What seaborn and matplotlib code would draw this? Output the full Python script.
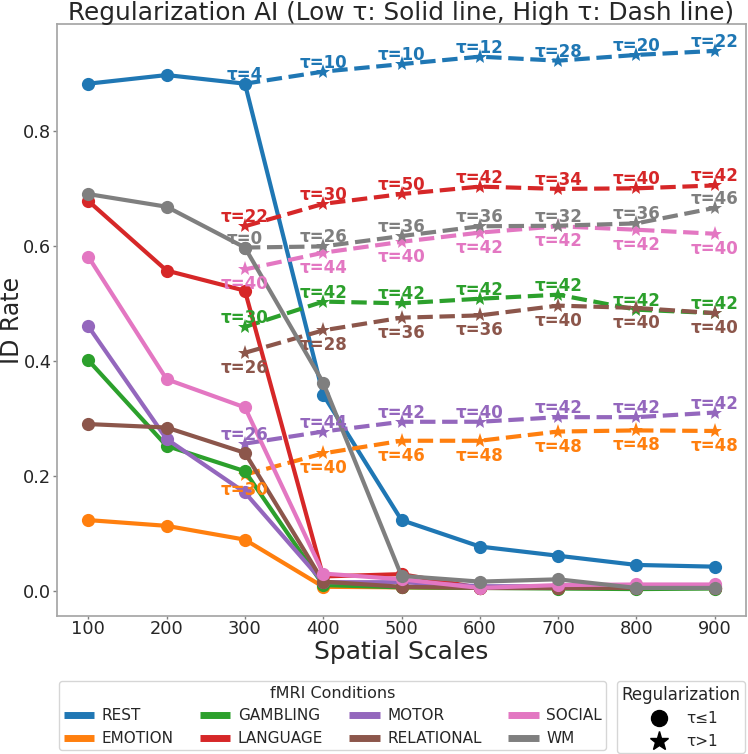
import matplotlib
matplotlib.use("Agg")
import matplotlib.pyplot as plt
from matplotlib.lines import Line2D
import seaborn as sns
import pandas as pd

# ---------------- data ----------------
scales = [100, 200, 300, 400, 500, 600, 700, 800, 900]
high_scales = [300, 400, 500, 600, 700, 800, 900]
conditions = ["REST", "EMOTION", "GAMBLING", "LANGUAGE", "MOTOR", "RELATIONAL", "SOCIAL", "WM"]

low_rest = [0.882, 0.897, 0.882, 0.341, 0.123, 0.077, 0.061, 0.045, 0.042]
low_emotion = [0.123, 0.113, 0.089, 0.007, 0.006, 0.005, 0.005, 0.005, 0.005]
low_gambling = [0.401, 0.252, 0.208, 0.010, 0.006, 0.005, 0.004, 0.003, 0.004]
low_language = [0.678, 0.557, 0.522, 0.025, 0.029, 0.005, 0.005, 0.005, 0.005]
low_motor = [0.460, 0.264, 0.171, 0.015, 0.015, 0.008, 0.008, 0.008, 0.008]
low_relational = [0.290, 0.284, 0.240, 0.016, 0.007, 0.005, 0.005, 0.005, 0.005]
low_social = [0.581, 0.368, 0.319, 0.030, 0.020, 0.005, 0.010, 0.011, 0.011]
low_wm = [0.690, 0.668, 0.597, 0.362, 0.026, 0.016, 0.020, 0.005, 0.005]

high_rest = [0.882, 0.903, 0.916, 0.929, 0.922, 0.932, 0.939]
high_emotion = [0.202, 0.239, 0.261, 0.261, 0.277, 0.279, 0.278]
high_gambling = [0.459, 0.503, 0.500, 0.508, 0.515, 0.489, 0.483]
high_language = [0.634, 0.673, 0.690, 0.703, 0.699, 0.700, 0.705]
high_motor = [0.256, 0.277, 0.294, 0.294, 0.302, 0.302, 0.310]
high_relational = [0.414, 0.453, 0.475, 0.479, 0.496, 0.492, 0.483]
high_social = [0.559, 0.588, 0.607, 0.623, 0.634, 0.628, 0.621]
high_wm = [0.597, 0.599, 0.617, 0.634, 0.635, 0.639, 0.666]

tau_rest = [4, 10, 10, 12, 28, 20, 22]
tau_emotion = [30, 40, 46, 48, 48, 48, 48]
tau_gambling = [30, 42, 42, 42, 42, 42, 42]
tau_language = [22, 30, 50, 42, 34, 40, 42]
tau_motor = [26, 44, 42, 40, 42, 42, 42]
tau_relational = [26, 28, 36, 36, 40, 40, 40]
tau_social = [40, 44, 40, 42, 42, 42, 40]
tau_wm = [0, 26, 36, 36, 32, 36, 46]

low_vals = [low_rest, low_emotion, low_gambling, low_language, low_motor,
            low_relational, low_social, low_wm]
high_vals = [high_rest, high_emotion, high_gambling, high_language, high_motor,
             high_relational, high_social, high_wm]
tau_vals = [tau_rest, tau_emotion, tau_gambling, tau_language, tau_motor,
            tau_relational, tau_social, tau_wm]

# ---------------- style ----------------
sns.set_style("white")
plt.rcParams["font.family"] = ["DejaVu Sans"]
palette = sns.color_palette("tab10", 8)
label_below = {"EMOTION", "RELATIONAL", "SOCIAL"}

fig = plt.figure(figsize=(7.48, 7.54), dpi=100)
ax = fig.add_axes([57 / 748, 1 - 616 / 754, (746 - 57) / 748, (616 - 24) / 754])

annotations = []
for i, cond in enumerate(conditions):
    col = palette[i]
    dlow = pd.DataFrame({"scale": scales, "rate": low_vals[i]})
    dhigh = pd.DataFrame({"scale": high_scales, "rate": high_vals[i], "tau": tau_vals[i]})
    sns.lineplot(data=dlow, x="scale", y="rate", color=col, lw=3, marker="o",
                 markersize=9.5, markeredgewidth=0, ax=ax, legend=False, sort=False)
    star_mask = [t > 1 for t in tau_vals[i]]
    sns.lineplot(data=dhigh, x="scale", y="rate", color=col, lw=3, linestyle="--",
                 marker="*", markersize=11, markeredgewidth=0, markevery=star_mask,
                 ax=ax, legend=False, sort=False)
    small = dhigh[dhigh["tau"] <= 1]
    if len(small):
        ax.plot(small["scale"], small["rate"], "o", color=col, ms=9.5, mew=0)
    for _, r in dhigh.iterrows():
        off = -15 if cond in label_below else 9
        annotations.append((r["scale"], r["rate"], f"τ={int(r['tau'])}", col, off))

for x, y, txt, col, off in annotations:
    ax.annotate(txt, (x, y), xytext=(0, off), textcoords="offset pixels",
                ha="center", va="center", color=col, fontsize=12,
                fontweight="bold", zorder=10)

ax.set_xticks(scales)
ax.set_xticklabels([str(s) for s in scales])
ax.set_yticks([0.0, 0.2, 0.4, 0.6, 0.8])
ax.tick_params(axis="both", labelsize=12.8, color="0.5", width=1,
               bottom=True, left=True)
ax.tick_params(axis="x", length=2.5, pad=0.5)
ax.tick_params(axis="y", length=3, pad=1)
ax.set_xlabel("Spatial Scales", fontsize=18, labelpad=1)
ax.set_ylabel("ID Rate", fontsize=17)
ax.yaxis.set_label_coords((24 - 57) / 689, 0.5)
ax.set_title("Regularization AI (Low τ: Solid line, High τ: Dash line)", fontsize=17.8, pad=3)
for sp in ax.spines.values():
    sp.set_color("0.65")
    sp.set_linewidth(1.25)

# ---------------- legends ----------------
cond_handles = [Line2D([0], [0], color=palette[i], lw=5, solid_capstyle="butt")
                for i in range(len(conditions))]
leg1 = fig.legend(cond_handles, conditions, loc="upper left", ncol=4,
                  bbox_to_anchor=(59 / 748, 1 - 681 / 754), borderaxespad=0,
                  title="fMRI Conditions", fontsize=11, title_fontsize=11.5,
                  handlelength=2.0, handletextpad=0.5, columnspacing=1.7,
                  borderpad=0.3, frameon=True)
reg_handles = [Line2D([0], [0], color="black", marker="o", ls="none", ms=11.5),
               Line2D([0], [0], color="black", marker="*", ls="none", ms=14)]
leg2 = fig.legend(reg_handles, ["τ≤1", "τ>1"], loc="upper right",
                  bbox_to_anchor=(745 / 748, 1 - 681 / 754), borderaxespad=0,
                  title="Regularization", fontsize=11, title_fontsize=12,
                  borderpad=0.3, frameon=True)

fig.savefig("out.png", dpi=100)
